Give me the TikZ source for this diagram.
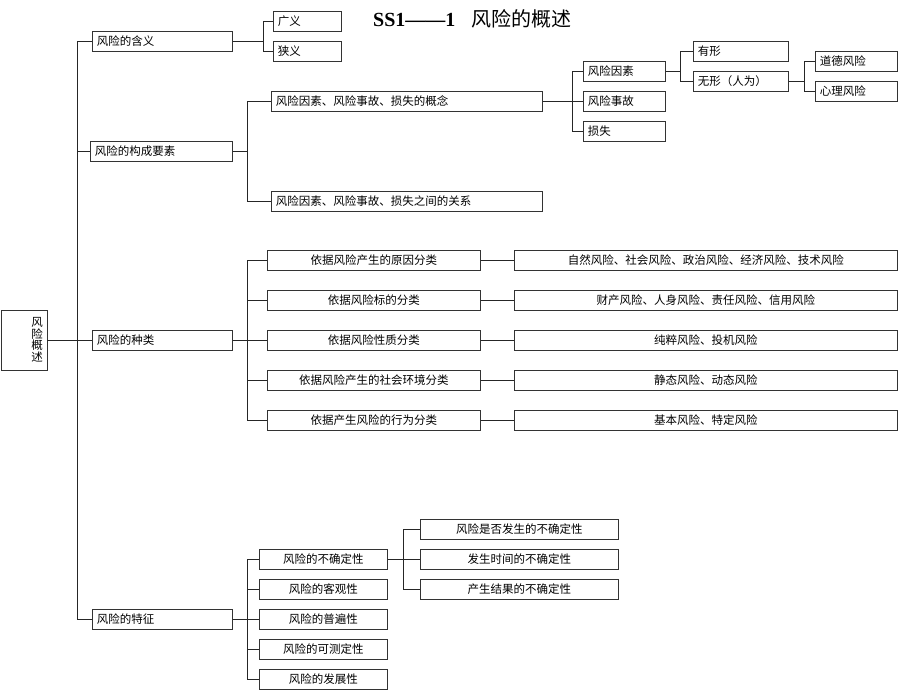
\documentclass[tikz,border=0pt]{standalone}
\usepackage{fontspec}
\setmainfont{Liberation Serif}
\newfontfamily\cjk{Noto Sans CJK SC}
\begin{document}
\begin{tikzpicture}[x=1pt,y=-1pt]
\tikzset{
 bx/.style={draw=black!80, line width=0.9pt, minimum height=20pt, inner ysep=0pt,
   font=\cjk\fontsize{11.5}{13}\selectfont, anchor=west},
 lb/.style={bx, text width=#1, align=left, inner xsep=4.5pt},
 cb/.style={bx, minimum width=#1, inner xsep=0pt, align=center},
 ln/.style={line width=0.9pt, draw=black!85},
}
\useasboundingbox (0,0) rectangle (920,690);
% title
\node[anchor=base west, inner sep=0pt] (title) at (373,26.5)
  {\fontsize{20}{22}\selectfont{\bfseries SS1——1}\hspace{16pt}{\cjk 风险的概述}};
% root
\node[bx, minimum width=46pt, minimum height=60pt, text width=38pt, align=right,
  inner xsep=0pt, font=\cjk\fontsize{11.5}{11.5}\selectfont] (root) at (0.5,340) {风\\险\\概\\述};
% level 1
\node[lb=131pt] (hanyi) at (92,41) {风险的含义};
\node[lb=133pt] (gouch) at (90,151) {风险的构成要素};
\node[lb=131pt] (zhong) at (92,340) {风险的种类};
\node[lb=131pt] (tez) at (92,619) {风险的特征};
\coordinate (j0) at (77,340);
\draw[ln] (root.east) -- (j0);
\foreach \n in {hanyi,gouch,zhong,tez} \draw[ln] (j0) |- (\n.west);
% hanyi children
\node[lb=59pt] (guang) at (273,21) {广义};
\node[lb=59pt] (xia) at (273,51) {狭义};
\coordinate (j1) at (263,41);
\draw[ln] (hanyi.east) -- (j1);
\foreach \n in {guang,xia} \draw[ln] (j1) |- (\n.west);
% gouch children
\node[lb=262pt] (gainian) at (271,101) {风险因素、风险事故、损失的概念};
\node[lb=262pt] (guanxi) at (271,201) {风险因素、风险事故、损失之间的关系};
\coordinate (j2) at (247,151);
\draw[ln] (gouch.east) -- (j2);
\foreach \n in {gainian,guanxi} \draw[ln] (j2) |- (\n.west);
% gainian children
\node[lb=73pt] (yinsu) at (583,71) {风险因素};
\node[lb=73pt] (shigu) at (583,101) {风险事故};
\node[lb=73pt] (sunshi) at (583,131) {损失};
\coordinate (j3) at (572,101);
\draw[ln] (gainian.east) -- (j3);
\foreach \n in {yinsu,shigu,sunshi} \draw[ln] (j3) |- (\n.west);
% yinsu children
\node[lb=86pt] (youxing) at (693,51) {有形};
\node[lb=86pt] (wuxing) at (693,81) {无形（人为）};
\coordinate (j4) at (680,71);
\draw[ln] (yinsu.east) -- (j4);
\foreach \n in {youxing,wuxing} \draw[ln] (j4) |- (\n.west);
% wuxing children
\node[lb=73pt] (daode) at (815,61) {道德风险};
\node[lb=73pt] (xinli) at (815,91) {心理风险};
\coordinate (j5) at (804,81);
\draw[ln] (wuxing.east) -- (j5);
\foreach \n in {daode,xinli} \draw[ln] (j5) |- (\n.west);
% zhonglei children
\node[cb=213pt] (z1) at (267,260) {依据风险产生的原因分类};
\node[cb=213pt] (z2) at (267,300) {依据风险标的分类};
\node[cb=213pt] (z3) at (267,340) {依据风险性质分类};
\node[cb=213pt] (z4) at (267,380) {依据风险产生的社会环境分类};
\node[cb=213pt] (z5) at (267,420) {依据产生风险的行为分类};
\coordinate (j6) at (247,340);
\draw[ln] (zhong.east) -- (j6);
\foreach \n in {z1,z2,z3,z4,z5} \draw[ln] (j6) |- (\n.west);
\node[cb=383pt] (r1) at (514,260) {自然风险、社会风险、政治风险、经济风险、技术风险};
\node[cb=383pt] (r2) at (514,300) {财产风险、人身风险、责任风险、信用风险};
\node[cb=383pt] (r3) at (514,340) {纯粹风险、投机风险};
\node[cb=383pt] (r4) at (514,380) {静态风险、动态风险};
\node[cb=383pt] (r5) at (514,420) {基本风险、特定风险};
\foreach \i in {1,...,5} \draw[ln] (z\i.east) -- (r\i.west);
% tezheng children
\node[cb=128pt] (t1) at (259,559) {风险的不确定性};
\node[cb=128pt] (t2) at (259,589) {风险的客观性};
\node[cb=128pt] (t3) at (259,619) {风险的普遍性};
\node[cb=128pt] (t4) at (259,649) {风险的可测定性};
\node[cb=128pt] (t5) at (259,679) {风险的发展性};
\coordinate (j7) at (247,619);
\draw[ln] (tez.east) -- (j7);
\foreach \n in {t1,t2,t3,t4,t5} \draw[ln] (j7) |- (\n.west);
% uncertainty children
\node[cb=198pt] (u1) at (420,529) {风险是否发生的不确定性};
\node[cb=198pt] (u2) at (420,559) {发生时间的不确定性};
\node[cb=198pt] (u3) at (420,589) {产生结果的不确定性};
\coordinate (j8) at (403,559);
\draw[ln] (t1.east) -- (j8);
\foreach \n in {u1,u2,u3} \draw[ln] (j8) |- (\n.west);
\end{tikzpicture}
\end{document}
